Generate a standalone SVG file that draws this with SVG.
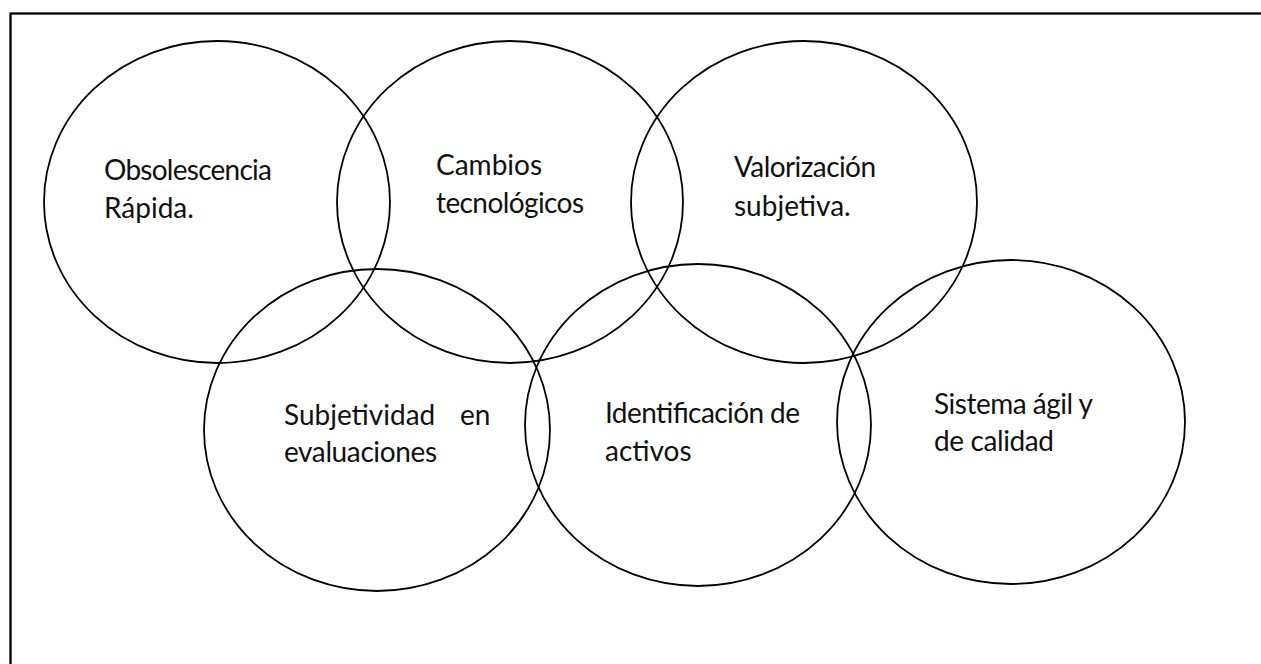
<svg xmlns="http://www.w3.org/2000/svg" width="1261" height="664" viewBox="0 0 1261 664">
<style>
.frame{fill:none;stroke:#000;stroke-width:2.3}
.c{fill:none;stroke:#000;stroke-width:1.8}
.t{font-family:Lato,"Open Sans","Liberation Sans",sans-serif;font-size:28px;fill:#111}
</style>
<rect x="0" y="0" width="1261" height="664" fill="#fff"/>
<rect class="frame" x="10.5" y="13.5" width="1300" height="700"/>
<g id="node-obsolescencia">
<ellipse class="c" cx="217" cy="202" rx="173" ry="161"/>
<text class="t" x="104" y="180" textLength="168">Obsolescencia</text>
<text class="t" x="104" y="218">Rápida.</text>
</g>
<g id="node-cambios">
<ellipse class="c" cx="510" cy="202" rx="173" ry="161"/>
<text class="t" x="436" y="175">Cambios</text>
<text class="t" x="436" y="213" textLength="148">tecnológicos</text>
</g>
<g id="node-valorizacion">
<ellipse class="c" cx="804" cy="202" rx="173" ry="161"/>
<text class="t" x="734" y="177" textLength="142">Valorización</text>
<text class="t" x="734" y="216">subjetiva.</text>
</g>
<g id="node-subjetividad">
<ellipse class="c" cx="377" cy="430" rx="173" ry="161"/>
<text class="t" y="425"><tspan x="284">Subjetividad</tspan><tspan x="460">en</tspan></text>
<text class="t" x="284" y="462" textLength="153">evaluaciones</text>
</g>
<g id="node-identificacion">
<ellipse class="c" cx="698" cy="425" rx="173" ry="161"/>
<text class="t" x="605" y="423" textLength="195">Identificación de</text>
<text class="t" x="605" y="461">activos</text>
</g>
<g id="node-sistema">
<ellipse class="c" cx="1011" cy="422" rx="174" ry="162"/>
<text class="t" x="934" y="414" textLength="159">Sistema ágil y</text>
<text class="t" x="934" y="451" textLength="120">de calidad</text>
</g>
<g id="connectors"></g>
</svg>
